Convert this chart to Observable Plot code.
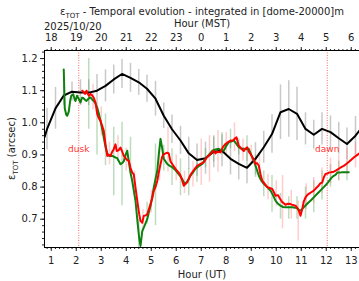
<!DOCTYPE html>
<html><head><meta charset="utf-8">
<script src="https://cdn.jsdelivr.net/npm/d3@7"></script>
<script src="https://cdn.jsdelivr.net/npm/@observablehq/plot@0.6"></script>
<style>body{margin:0;background:#fff}svg{display:block}</style>
</head><body><div id="chart"></div>
<script>
const utTicks = [1,2,3,4,5,6,7,8,9,10,11,12,13];
const mstLabels = ["18","19","20","21","22","23","0","1","2","3","4","5","6"];
const yTicks = [0.7,0.8,0.9,1.0,1.1,1.2];

const blackHours = [0.73,0.83,1.17,1.5,1.83,2.17,2.5,2.83,3.17,3.5,3.83,4.17,4.5,4.83,5.17,5.5,5.83,6.17,6.5,6.83,7.17,7.5,7.83,8.17,8.5,8.83,9.17,9.5,9.83,10.17,10.5,10.83,11.17,11.5,11.83,12.17,12.5,12.83,13.17,13.33];
const blackValues = [0.955,0.98,1.045,1.085,1.097,1.094,1.094,1.1,1.115,1.135,1.152,1.14,1.126,1.106,1.075,1.022,0.98,0.945,0.905,0.884,0.89,0.91,0.913,0.888,0.872,0.86,0.888,0.924,0.965,1.033,1.043,1.028,0.981,0.963,0.981,0.971,0.952,0.934,0.96,0.976];
const blackErr = [0,0.065,0.065,0.03,0.03,0.04,0.04,0.05,0.05,0.045,0.045,0.045,0.04,0.042,0.054,0.04,0.044,0.044,0.05,0.05,0.05,0.05,0.05,0.05,0.05,0.05,0.05,0.05,0.06,0.085,0.088,0.083,0.05,0.045,0.05,0.05,0.05,0.05,0.06,0];

const greenHours = [1.50,1.54,1.60,1.64,1.70,1.76,1.80,1.88,1.94,1.97,2.03,2.10,2.17,2.23,2.28,2.35,2.41,2.50,2.57,2.64,2.70,2.77,2.84,2.90,2.97,3.04,3.10,3.17,3.24,3.32,3.44,3.57,3.64,3.77,3.84,3.90,3.97,4.04,4.10,4.17,4.24,4.30,4.37,4.46,4.52,4.57,4.64,4.73,4.84,4.90,4.97,5.04,5.10,5.17,5.24,5.30,5.37,5.44,5.50,5.57,5.64,5.74,5.84,5.94,6.04,6.14,6.24,6.30,6.37,6.44,6.57,6.67,6.77,6.90,7.04,7.10,7.17,7.30,7.44,7.57,7.70,7.80,7.90,8.00,8.10,8.20,8.30,8.40,8.50,8.60,8.70,8.80,8.90,9.00,9.10,9.20,9.30,9.40,9.50,9.64,9.77,9.87,9.97,10.07,10.17,10.27,10.37,10.50,10.64,10.75,10.84,10.92,10.97,11.04,11.10,11.20,11.30,11.40,11.50,11.60,11.70,11.80,11.90,12.00,12.10,12.20,12.30,12.37,12.44,12.54,12.64,12.80,12.90];
const greenValues = [1.166,1.045,1.025,1.022,1.035,1.07,1.084,1.089,1.072,1.068,1.084,1.075,1.063,1.078,1.077,1.072,1.068,1.076,1.079,1.072,1.068,1.06,1.047,1.03,1.006,0.98,0.954,0.925,0.905,0.897,0.897,0.892,0.89,0.871,0.875,0.88,0.9,0.913,0.88,0.845,0.819,0.79,0.757,0.684,0.64,0.617,0.663,0.679,0.70,0.72,0.741,0.77,0.798,0.825,0.85,0.9,0.95,0.92,0.888,0.88,0.872,0.866,0.862,0.855,0.846,0.836,0.825,0.815,0.81,0.818,0.836,0.846,0.857,0.865,0.872,0.88,0.888,0.9,0.913,0.917,0.919,0.915,0.913,0.928,0.94,0.942,0.945,0.935,0.924,0.92,0.919,0.918,0.919,0.9,0.882,0.86,0.836,0.82,0.81,0.80,0.789,0.775,0.758,0.748,0.742,0.738,0.737,0.737,0.737,0.736,0.734,0.728,0.727,0.732,0.737,0.745,0.753,0.76,0.768,0.776,0.784,0.792,0.80,0.808,0.818,0.828,0.835,0.838,0.845,0.845,0.846,0.846,0.846];

const redHours = [2.24,2.30,2.35,2.41,2.46,2.51,2.57,2.64,2.70,2.77,2.84,2.90,2.97,3.04,3.10,3.17,3.24,3.30,3.37,3.44,3.50,3.57,3.62,3.70,3.77,3.84,3.90,3.97,4.04,4.10,4.17,4.24,4.30,4.37,4.46,4.52,4.57,4.64,4.70,4.77,4.84,4.90,4.97,5.04,5.10,5.17,5.24,5.30,5.37,5.44,5.50,5.57,5.64,5.70,5.77,5.84,5.90,5.97,6.04,6.10,6.17,6.24,6.30,6.37,6.44,6.50,6.57,6.64,6.74,6.84,6.97,7.10,7.20,7.30,7.40,7.50,7.57,7.64,7.77,7.87,7.97,8.07,8.17,8.25,8.33,8.41,8.46,8.50,8.60,8.70,8.77,8.84,8.90,8.97,9.07,9.17,9.23,9.30,9.37,9.44,9.54,9.64,9.74,9.84,9.90,9.97,10.07,10.14,10.24,10.30,10.37,10.47,10.57,10.67,10.77,10.84,10.90,10.97,11.04,11.10,11.17,11.24,11.30,11.40,11.50,11.60,11.70,11.77,11.84,11.90,11.97,12.04,12.10,12.20,12.30,12.40,12.50,12.60,12.70,12.80,12.90,13.00,13.10,13.20,13.33];
const redValues = [1.10,1.095,1.09,1.10,1.09,1.084,1.09,1.085,1.078,1.063,1.027,1.015,1.006,0.99,0.975,0.933,0.897,0.9,0.897,0.91,0.918,0.933,0.912,0.915,0.923,0.91,0.897,0.89,0.884,0.882,0.86,0.845,0.84,0.798,0.747,0.715,0.695,0.689,0.71,0.712,0.715,0.73,0.747,0.765,0.788,0.8,0.819,0.845,0.871,0.895,0.902,0.905,0.907,0.905,0.88,0.872,0.865,0.857,0.85,0.845,0.836,0.82,0.804,0.81,0.815,0.825,0.838,0.846,0.857,0.867,0.872,0.877,0.89,0.898,0.905,0.913,0.905,0.91,0.908,0.925,0.934,0.94,0.945,0.944,0.95,0.955,0.94,0.929,0.92,0.912,0.92,0.924,0.91,0.903,0.89,0.872,0.875,0.867,0.84,0.82,0.81,0.80,0.797,0.794,0.785,0.773,0.775,0.765,0.753,0.75,0.745,0.748,0.747,0.744,0.742,0.735,0.727,0.711,0.732,0.755,0.768,0.775,0.779,0.784,0.789,0.797,0.805,0.812,0.814,0.83,0.841,0.842,0.845,0.846,0.848,0.852,0.857,0.862,0.866,0.872,0.878,0.885,0.892,0.898,0.905];

const greenErrHours = [2.5,2.83,3.17,3.5,3.83,4.17,4.5,4.83,5.17,5.5,5.83,6.17,6.5,6.83,7.17,7.5,7.83,8.17,8.5,8.83,9.17,9.5,9.83,10.17,10.5,10.83,11.17,11.5,11.83,12.17,12.5,12.83];
const greenErrLow  = [0.98,0.90,0.867,0.773,0.742,0.836,0.60,0.685,0.68,0.85,0.805,0.773,0.773,0.815,0.86,0.877,0.90,0.92,0.90,0.88,0.83,0.77,0.722,0.70,0.70,0.70,0.70,0.72,0.76,0.80,0.82,0.82];
const greenErrHigh = [1.20,1.028,1.028,0.986,1.002,0.955,0.70,0.753,0.934,0.93,0.919,0.888,0.857,0.888,0.92,0.955,0.97,0.98,0.95,0.96,0.90,0.85,0.836,0.78,0.77,0.77,0.80,0.82,0.85,0.87,0.88,0.88];

const redErrHours = [2.67,3.0,3.33,3.67,4.0,4.33,4.67,5.0,5.33,5.67,6.0,6.33,6.67,7.0,7.33,7.67,8.0,8.33,8.67,9.0,9.33,9.67,10.0,10.25,10.6,10.88,11.2,11.5,11.83,12.17,12.5,12.83,13.17];
const redErrLow  = [1.04,0.96,0.87,0.88,0.85,0.77,0.66,0.72,0.82,0.846,0.82,0.78,0.80,0.805,0.815,0.846,0.90,0.91,0.88,0.87,0.82,0.76,0.74,0.67,0.70,0.632,0.73,0.75,0.78,0.81,0.82,0.84,0.86];
const redErrHigh = [1.12,1.05,0.94,0.96,0.92,0.85,0.73,0.79,0.92,0.986,0.90,0.85,0.88,0.95,0.96,0.976,0.97,1.00,0.95,0.93,0.90,0.84,0.82,0.836,0.79,0.757,0.81,0.83,0.86,0.89,0.90,0.92,0.94];

const duskHour = 2.1, dawnHour = 12.04, markerLabelValue = 0.919;

const black = blackHours.map((h,i)=>({h, v: blackValues[i], e: blackErr[i]}));
const green = greenHours.map((h,i)=>({h, v: greenValues[i]}));
const red = redHours.map((h,i)=>({h, v: redValues[i]}));
const gErr = greenErrHours.map((h,i)=>({h, lo: greenErrLow[i], hi: greenErrHigh[i]}));
const rErr = redErrHours.map((h,i)=>({h, lo: redErrLow[i], hi: redErrHigh[i]}));
const twilight = [{h: duskHour, t: "dusk"}, {h: dawnHour, t: "dawn"}];

const xDomain = [0.73, 13.33];
const minorX = d3.range(0, 90).map(i => 0.5 + i/6).filter(t => t >= xDomain[0] && t <= xDomain[1]);
const minorY = d3.range(0, 40).map(i => +(0.62 + i*0.02).toFixed(2)).filter(t => t <= 1.22);

const FONT = "DejaVu Sans";
const plot = Plot.plot({
  width: 359, height: 281,
  marginTop: 50, marginBottom: 34, marginLeft: 44, marginRight: 0,
  style: {fontFamily: FONT, fontSize: "10px", color: "#222", background: "white"},
  x: {domain: xDomain},
  y: {domain: [0.612, 1.225]},
  marks: [
    Plot.ruleX(black.filter(d=>d.e>0), {x: "h", y1: d=>d.v-d.e, y2: d=>d.v+d.e, stroke: "#bbbbbb", strokeWidth: 1.5, strokeOpacity: 0.8}),
    Plot.ruleX(gErr, {x: "h", y1: "lo", y2: "hi", stroke: "#5aa85a", strokeWidth: 1.5, strokeOpacity: 0.4, clip: true}),
    Plot.ruleX(rErr, {x: "h", y1: "lo", y2: "hi", stroke: "#ff7070", strokeWidth: 1.5, strokeOpacity: 0.35, clip: true}),
    Plot.ruleX(twilight, {x: "h", stroke: "#ff4040", strokeWidth: 1, strokeDasharray: "1,1.5", strokeOpacity: 0.8}),
    Plot.text(twilight, {x: "h", y: markerLabelValue, text: "t", fill: "#ff3030", fontSize: 9}),
    Plot.line(black, {x: "h", y: "v", stroke: "black", strokeWidth: 2, clip: true}),
    Plot.line(green, {x: "h", y: "v", stroke: "#0d800d", strokeWidth: 2, clip: true}),
    Plot.line(red, {x: "h", y: "v", stroke: "#ff0000", strokeWidth: 2, clip: true}),
    Plot.axisX({anchor: "bottom", ticks: utTicks, tickSize: 4, tickPadding: 5, label: null, tickFormat: d3.format("d")}),
    Plot.axisX({anchor: "bottom", ticks: minorX, tickSize: 2, label: null, tickFormat: null, text: null}),
    Plot.axisX({anchor: "top", ticks: utTicks, tickSize: 4, tickPadding: 6, label: null, tickFormat: d => mstLabels[utTicks.indexOf(d)]}),
    Plot.axisX({anchor: "top", ticks: minorX, tickSize: 2, label: null, text: null}),
    Plot.axisY({ticks: yTicks, tickSize: 4, tickPadding: 3, label: null, tickFormat: d3.format(".1f")}),
    Plot.axisY({ticks: minorY, tickSize: 2, label: null, text: null}),
    Plot.frame({stroke: "black", strokeWidth: 1})
  ]
});

const svg = d3.select(plot);
function addText(x, y, parts, opts = {}) {
  const t = svg.append("text").attr("x", x).attr("y", y)
    .attr("text-anchor", opts.anchor || "middle")
    .attr("font-family", FONT).attr("font-size", 10).attr("fill", "#222");
  if (opts.rotate) t.attr("transform", `rotate(-90,${x},${y})`);
  parts.forEach(p => {
    const s = t.append("tspan").text(p.s);
    if (p.sub) s.attr("font-size", 7).attr("dy", 2.5);
    if (p.back) s.attr("dy", -2.5);
  });
}
addText(202, 15, [{s: "ε"}, {s: "TOT", sub: true}, {s: " - Temporal evolution - integrated in [dome-20000]m", back: true}]);
addText(202, 27, [{s: "Hour (MST)"}]);
addText(44, 30, [{s: "2025/10/20"}], {anchor: "start"});
addText(202, 278, [{s: "Hour (UT)"}]);
addText(15, 148.5, [{s: "ε"}, {s: "TOT", sub: true}, {s: " (arcsec)", back: true}], {rotate: true});

document.getElementById("chart").appendChild(plot);
</script>
</body></html>
